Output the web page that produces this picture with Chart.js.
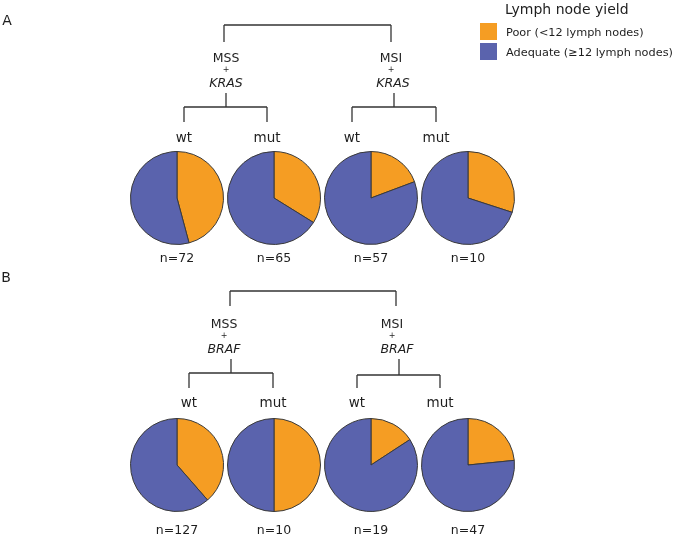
<!DOCTYPE html>
<html>
<head>
<meta charset="utf-8">
<script src="https://cdn.jsdelivr.net/npm/chart.js@4/dist/chart.umd.min.js"></script>
<style>
  html, body { margin: 0; padding: 0; background: #fff; }
  #fig { position: relative; width: 685px; height: 536px; overflow: hidden; }
  .pie { position: absolute; width: 94px; height: 94px; }
  svg { position: absolute; left: 0; top: 0; }
  svg text { font-family: "DejaVu Sans", sans-serif; fill: #1e1e1e; }
</style>
</head>
<body>
<div id="fig">
  <svg width="685" height="536" id="tree"></svg>
</div>
<script>
// data
const seriesNames = ['Poor (<12 lymph nodes)', 'Adequate (\u226512 lymph nodes)'];
const kinds = ['wt', 'mut', 'wt', 'mut'];

const krasN = [72, 65, 57, 10];
const krasPoor = [33, 22, 11, 3];
const krasAdequate = [39, 43, 46, 7];

const brafN = [127, 10, 19, 47];
const brafPoor = [49, 5, 3, 11];
const brafAdequate = [78, 5, 16, 36];

const poorColor = '#F59D23';
const adequateColor = '#5A63AD';

const pieX = [177, 274, 371, 468];
const NS = 'http://www.w3.org/2000/svg';
const fig = document.getElementById('fig');
const svg = document.getElementById('tree');

function drawPie(x, y, poor, adequate){
    const div = document.createElement('div');
    div.className = 'pie';
    div.style.left = (x - 47) + 'px';
    div.style.top = (y - 47) + 'px';
    const cv = document.createElement('canvas');
    cv.width = 94; cv.height = 94;
    div.appendChild(cv);
    fig.insertBefore(div, svg);
    new Chart(cv, {
        type: 'pie',
        data: {
            labels: seriesNames,
            datasets: [{
                data: [poor, adequate],
                backgroundColor: [poorColor, adequateColor],
                borderColor: '#3a3a3a',
                borderWidth: 1
            }]
        },
        options: {
            responsive: false,
            animation: false,
            layout: { padding: 0 },
            plugins: { legend: { display: false }, tooltip: { enabled: false } }
        }
    });
}

function line(x1, y1, x2, y2){
    const l = document.createElementNS(NS, 'line');
    l.setAttribute('x1', x1); l.setAttribute('y1', y1);
    l.setAttribute('x2', x2); l.setAttribute('y2', y2);
    l.setAttribute('stroke', '#333');
    l.setAttribute('stroke-width', '1.3');
    svg.appendChild(l);
}

function text(x, y, s, size, italic, anchor){
    const t = document.createElementNS(NS, 'text');
    t.setAttribute('x', x); t.setAttribute('y', y);
    t.setAttribute('font-size', size);
    t.setAttribute('text-anchor', anchor || 'middle');
    t.setAttribute('dominant-baseline', 'central');
    if (italic) t.setAttribute('font-style', 'italic');
    t.textContent = s;
    svg.appendChild(t);
}

// bracket: top bar, two group labels, two sub-brackets
function drawTree(g){
    line(g.topL, g.topY, g.topR, g.topY);
    line(g.topL, g.topY, g.topL, g.topY + g.drop);
    line(g.topR, g.topY, g.topR, g.topY + g.drop);
    g.groups.forEach(gr => {
        text(gr.x, g.labY, gr.name, 12.5);
        text(gr.x, g.labY + 12, '+', 8);
        text(gr.gx, g.labY + 25, g.gene, 12.5, true);
        line(gr.stem, gr.stemY, gr.stem, gr.barY);
        line(gr.l, gr.barY, gr.r, gr.barY);
        line(gr.l, gr.barY, gr.l, g.leafY);
        line(gr.r, gr.barY, gr.r, g.leafY);
        text(gr.l, g.kindY, kinds[gr.i * 2], 13.5);
        text(gr.r, g.kindY, kinds[gr.i * 2 + 1], 13.5);
    });
}

drawTree({
    gene: 'KRAS', topL: 224, topR: 391, topY: 25, drop: 17, labY: 57, leafY: 122, kindY: 137,
    groups: [
        { i: 0, name: 'MSS', x: 226, gx: 226, stem: 226, stemY: 93, barY: 107, l: 184, r: 267 },
        { i: 1, name: 'MSI', x: 391, gx: 393, stem: 394, stemY: 93, barY: 107, l: 352, r: 436 }
    ]
});
drawTree({
    gene: 'BRAF', topL: 230, topR: 396, topY: 291, drop: 15, labY: 323, leafY: 388, kindY: 402,
    groups: [
        { i: 0, name: 'MSS', x: 224, gx: 224, stem: 231, stemY: 359, barY: 373, l: 189, r: 273 },
        { i: 1, name: 'MSI', x: 392, gx: 397, stem: 399, stemY: 359, barY: 375, l: 357, r: 440 }
    ]
});

for (let i = 0; i < 4; i++){
    drawPie(pieX[i], 198, krasPoor[i], krasAdequate[i]);
    text(pieX[i], 257, 'n=' + krasN[i], 12.5);
    drawPie(pieX[i], 465, brafPoor[i], brafAdequate[i]);
    text(pieX[i], 529, 'n=' + brafN[i], 12.5);
}

// panel letters
text(7, 20, 'A', 14, false, 'middle');
text(6, 277, 'B', 14, false, 'middle');

// legend
text(505, 9, 'Lymph node yield', 14, false, 'start');
const boxes = [[23, poorColor], [43, adequateColor]];
boxes.forEach((b, k) => {
    const r = document.createElementNS(NS, 'rect');
    r.setAttribute('x', 480); r.setAttribute('y', b[0]);
    r.setAttribute('width', 17); r.setAttribute('height', 17);
    r.setAttribute('fill', b[1]);
    svg.appendChild(r);
    text(506, b[0] + 9, seriesNames[k], 11.3, false, 'start');
});
</script>
</body>
</html>
